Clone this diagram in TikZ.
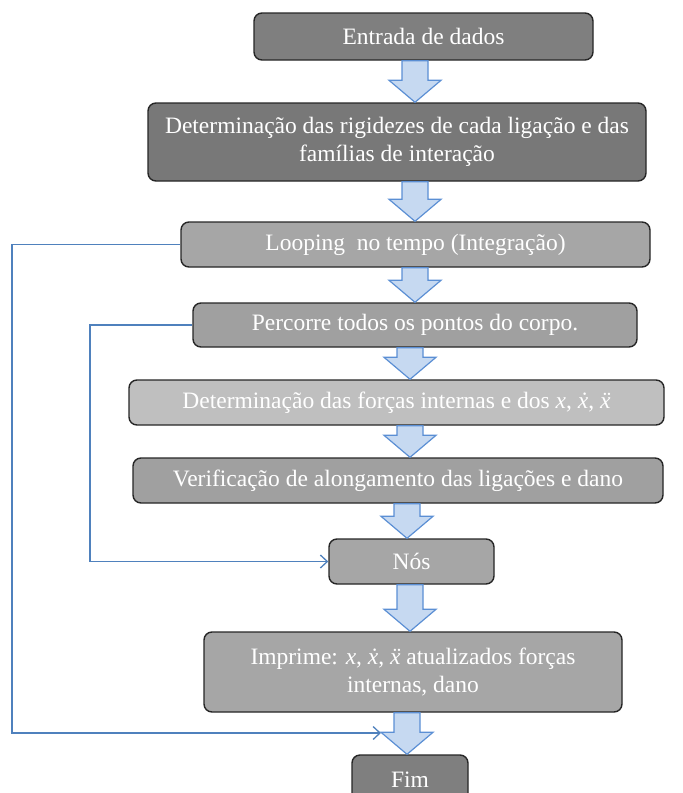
\documentclass[tikz,border=0pt]{standalone}
\usepackage{fontspec}
\setmainfont{Liberation Serif}
\usetikzlibrary{arrows.meta,calc}
\definecolor{gdark}{HTML}{7F7F7F}
\definecolor{gdarker}{HTML}{787878}
\definecolor{gmid}{HTML}{A6A6A6}
\definecolor{gmid2}{HTML}{A0A0A0}
\definecolor{glight}{HTML}{BFBFBF}
\definecolor{bdr}{HTML}{262626}
\definecolor{afill}{HTML}{C6D9F1}
\definecolor{astroke}{HTML}{5B8FD4}
\definecolor{lcol}{HTML}{4F81BD}
\newcommand\vx{\textit{x}}
\newcommand\vxd{\textit{x^^^^0307}}
\newcommand\vxdd{\textit{x^^^^0308}}
\newcommand\blockarrow[3]{%
  \path[blockarrowstyle] let \p1=(#2.south), \p2=(#3.north) in
    (#1pt-13pt,\y1) -- (#1pt+13pt,\y1) -- (#1pt+13pt,\y2+22pt) -- (#1pt+26pt,\y2+22pt)
    -- (#1pt,\y2) -- (#1pt-26pt,\y2+22pt) -- (#1pt-13pt,\y2+22pt) -- cycle;}
\begin{document}
\begin{tikzpicture}[x=1pt,y=-1pt,
  box/.style={draw=bdr, line width=1.4pt, rounded corners=8pt, text=white,
    align=center, inner sep=2pt, font=\fontsize{23.5}{28}\selectfont},
  blockarrowstyle/.style={fill=afill, draw=astroke, line width=1.2pt, line join=miter},
  loopline/.style={draw=lcol, line width=1.4pt, -{Straight Barb[length=7pt,width=13pt,line width=1.3pt]}}]
\useasboundingbox (0,0) rectangle (683,793);
\node[box, fill=gdark, minimum width=339pt, minimum height=47pt] (n1) at (423.5,36.5) {Entrada de dados};
\node[box, fill=gdarker, minimum width=498pt, minimum height=78pt] (n2) at (397,142) {Determinação das rigidezes de cada ligação e das\\famílias de interação};
\node[box, fill=gmid, minimum width=469pt, minimum height=45pt] (n3) at (415.5,244.5) {Looping\ \ no tempo (Integração)};
\node[box, fill=gmid2, minimum width=444pt, minimum height=44pt] (n4) at (415,325) {Percorre todos os pontos do corpo.};
\node[box, fill=glight, minimum width=535pt, minimum height=45pt] (n5) at (396.5,402.5) {Determinação das forças internas e dos \vx, \vxd, \vxdd};
\node[box, fill=gmid2, minimum width=530pt, minimum height=45pt] (n6) at (398,480.5) {Verificação de alongamento das ligações e dano};
\node[box, fill=gmid, minimum width=165pt, minimum height=45pt] (n7) at (411.5,561.5) {Nós};
\node[box, fill=gmid, minimum width=418pt, minimum height=80pt] (n8) at (413,672) {Imprime: \vx, \vxd, \vxdd\ atualizados forças\\internas, dano};
\node[box, fill=gdark, minimum width=116pt, minimum height=50pt] (n9) at (410,780) {Fim};
\blockarrow{415}{n1}{n2}
\blockarrow{415}{n2}{n3}
\blockarrow{415}{n3}{n4}
\blockarrow{410}{n4}{n5}
\blockarrow{410}{n5}{n6}
\blockarrow{407}{n6}{n7}
\blockarrow{410}{n7}{n8}
\blockarrow{407}{n8}{n9}
\coordinate (endloop) at (381,733);
\draw[loopline] (n3.west) -- (12,244.5) -- (12,733) -- (endloop);
\draw[loopline] (n4.west) -- (90,325) |- (n7.west);
\end{tikzpicture}
\end{document}
